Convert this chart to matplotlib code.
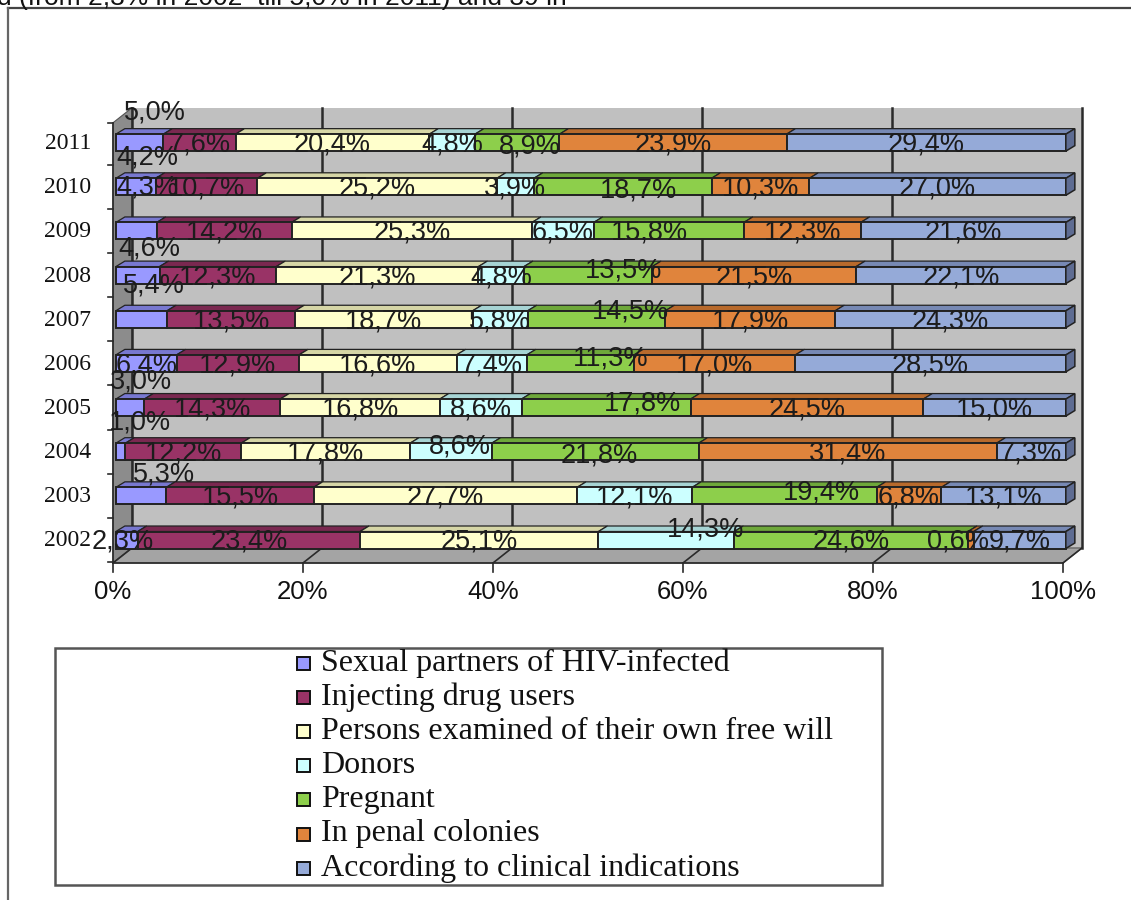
import matplotlib; matplotlib.use('Agg')
import matplotlib.pyplot as plt
from matplotlib.patches import Rectangle, Polygon
import numpy as np

W, H = 1131, 900

years = ['2002', '2003', '2004', '2005', '2006', '2007', '2008', '2009', '2010', '2011']
partners  = [2.3, 5.3, 1.0, 3.0, 6.4, 5.4, 4.6, 4.3, 4.2, 5.0]
idu       = [23.4, 15.5, 12.2, 14.3, 12.9, 13.5, 12.3, 14.2, 10.7, 7.6]
voluntary = [25.1, 27.7, 17.8, 16.8, 16.6, 18.7, 21.3, 25.3, 25.2, 20.4]
donors    = [14.3, 12.1, 8.6, 8.6, 7.4, 5.8, 4.8, 6.5, 3.9, 4.8]
pregnant  = [24.6, 19.4, 21.8, 17.8, 11.3, 14.5, 13.5, 15.8, 18.7, 8.9]
penal     = [0.6, 6.8, 31.4, 24.5, 17.0, 17.9, 21.5, 12.3, 10.3, 23.9]
clinical  = [9.7, 13.1, 7.3, 15.0, 28.5, 24.3, 22.1, 21.6, 27.0, 29.4]
names = ['Sexual partners of HIV-infected', 'Injecting drug users',
         'Persons examined of their own free will', 'Donors', 'Pregnant',
         'In penal colonies', 'According to clinical indications']
xticks = [0, 20, 40, 60, 80, 100]

series = [partners, idu, voluntary, donors, pregnant, penal, clinical]
FACE = ['#9999FF', '#993366', '#FFFFCC', '#CCFFFF', '#8DCF4B', '#E0843C', '#95AAD8']
TOP  = ['#7878D0', '#7A2850', '#D6D6A6', '#A6D4D4', '#6EA83A', '#B86A2C', '#7789B4']
SIDE = '#5E6C92'
EDGE = '#222222'

# pixel scale of the chart: 9.5 px per percent, 44.15 px per year row
SX, SY = 9.5, 44.15
X0, Y0 = 113, 540          # front plane: 0 % and the 2002 row
def px(dx, dy):            # pixel offsets -> data offsets
    return dx / SX, -dy / SY

WDX, WDY = px(19, -15)     # depth of the wall
BDX, BDY = px(9, -5.5)     # depth of a bar
SHIFT = 0.3
BH = 17 / SY
FLOOR = -0.52
TOPY = 9.45

# label nudges in pixels (dx, dy) for (year, series)
NUDGE = {('2011', 0): (15, -32), ('2010', 0): (12, -31), ('2009', 0): (11, -45),
         ('2008', 0): (12, -29), ('2007', 0): (12, -36), ('2006', 0): (0, 0),
         ('2005', 0): (11, -28), ('2004', 0): (19, -31), ('2003', 0): (23, -23),
         ('2002', 0): (-4, 0),
         ('2011', 4): (13, 2), ('2010', 4): (16, 2), ('2009', 4): (-19, 0),
         ('2008', 4): (36, -7), ('2007', 4): (34, -10), ('2006', 4): (30, -7),
         ('2005', 4): (36, -6), ('2004', 3): (9, -7), ('2004', 4): (4, 2),
         ('2003', 4): (37, -5), ('2002', 3): (39, -13), ('2002', 5): (-13, 0),
         ('2002', 6): (0, 0)}

fig = plt.figure(figsize=(W / 100, H / 100), dpi=100)
ax = fig.add_axes([0, 0, 1, 1])
ax.set_xlim(-X0 / SX, (W - X0) / SX)
ax.set_ylim((Y0 - H) / SY, Y0 / SY)
ax.axis('off')

# walls and floor
ax.add_patch(Rectangle((WDX, FLOOR + WDY), 100, TOPY - FLOOR, fc='#C0C0C0', ec='none', zorder=1))
ax.add_patch(Polygon([(0, FLOOR), (WDX, FLOOR + WDY), (WDX, TOPY + WDY), (0, TOPY)],
                     fc='#8C8C8C', ec='#555', lw=0.8, zorder=1))
ax.add_patch(Polygon([(0, FLOOR), (100, FLOOR), (100 + WDX, FLOOR + WDY), (WDX, FLOOR + WDY)],
                     fc='#A4A4A4', ec='#555', lw=0.8, zorder=1))
for t in xticks:
    ax.plot([t + WDX, t + WDX], [FLOOR + WDY, TOPY + WDY], color='#2a2a2a', lw=1.8, zorder=2)
    ax.plot([t, t + WDX], [FLOOR, FLOOR + WDY], color='#2a2a2a', lw=1.2, zorder=2)
    ax.plot([t, t], [FLOOR, FLOOR - 9 / SY], color='#2a2a2a', lw=1.2, zorder=2)
    ax.text(t, FLOOR - 29 / SY, f'{t}%', ha='center', va='center', fontsize=18.5,
            family='Liberation Sans', color='#111')
ax.plot([0, 100], [FLOOR, FLOOR], color='#2a2a2a', lw=1.2, zorder=2)
ax.plot([0, 0], [FLOOR, TOPY], color='#2a2a2a', lw=1.2, zorder=2)
for b in list(np.arange(len(years)) - 0.5) + [TOPY]:
    ax.plot([0, -5 / SX], [b, b], color='#2a2a2a', lw=1.2, zorder=2)

ypos = np.arange(len(years))
totals = np.sum(np.array(series), axis=0)
left = np.zeros(len(years))
for k, vals in enumerate(series):
    share = np.array(vals) / totals * 100
    ax.barh(ypos, share, left=left + SHIFT, height=BH, color=FACE[k],
            edgecolor=EDGE, lw=1.4, zorder=4)
    for i in range(len(years)):
        l, w, yt = left[i] + SHIFT, share[i], ypos[i] + BH / 2
        ax.add_patch(Polygon([(l, yt), (l + w, yt), (l + w + BDX, yt + BDY), (l + BDX, yt + BDY)],
                             fc=TOP[k], ec=EDGE, lw=0.9, zorder=3))
        if k == len(series) - 1:
            r, yb = l + w, ypos[i] - BH / 2
            ax.add_patch(Polygon([(r, yb), (r + BDX, yb + BDY), (r + BDX, yt + BDY), (r, yt)],
                                 fc=SIDE, ec=EDGE, lw=1.1, zorder=4))
        ndx, ndy = px(*NUDGE.get((years[i], k), (0, 0)))
        ax.text(left[i] + SHIFT + w / 2 + ndx, ypos[i] + ndy - 2 / SY,
                f'{vals[i]:.1f}'.replace('.', ',') + '%', ha='center', va='center',
                fontsize=19.5, family='Liberation Sans', color='#1c1c1c', zorder=6)
    left += share

for i, y in enumerate(years):
    ax.text(-22 / SX, ypos[i] - 1 / SY, y, ha='right', va='center', fontsize=17,
            family='Liberation Serif', color='#111')

# frame, caption fragment and legend in pixel coordinates
ov = fig.add_axes([0, 0, 1, 1], facecolor='none')
ov.set_xlim(0, W); ov.set_ylim(H, 0); ov.axis('off')
ov.plot([8, W], [8, 8], color='#444', lw=1.6)
ov.plot([8, 8], [8, H], color='#666', lw=1.6)
ov.text(-3, 5, 'd (from 2,3% in 2002  till 5,0% in 2011) and 39 in', ha='left',
        va='baseline', fontsize=19, family='Liberation Sans', color='#111')
ov.add_patch(Rectangle((55, 648), 827, 237, fc='white', ec='#555', lw=1.8))
for k, name in enumerate(names):
    y = 663 + 34.2 * k
    ov.add_patch(Rectangle((297, y - 6.5), 13, 13, fc=FACE[k], ec='#111', lw=1.4))
    ov.text(321, y, name, ha='left', va='center', fontsize=23,
            family='Liberation Serif', color='#111')

fig.savefig('out.png', dpi=100, facecolor='white')
